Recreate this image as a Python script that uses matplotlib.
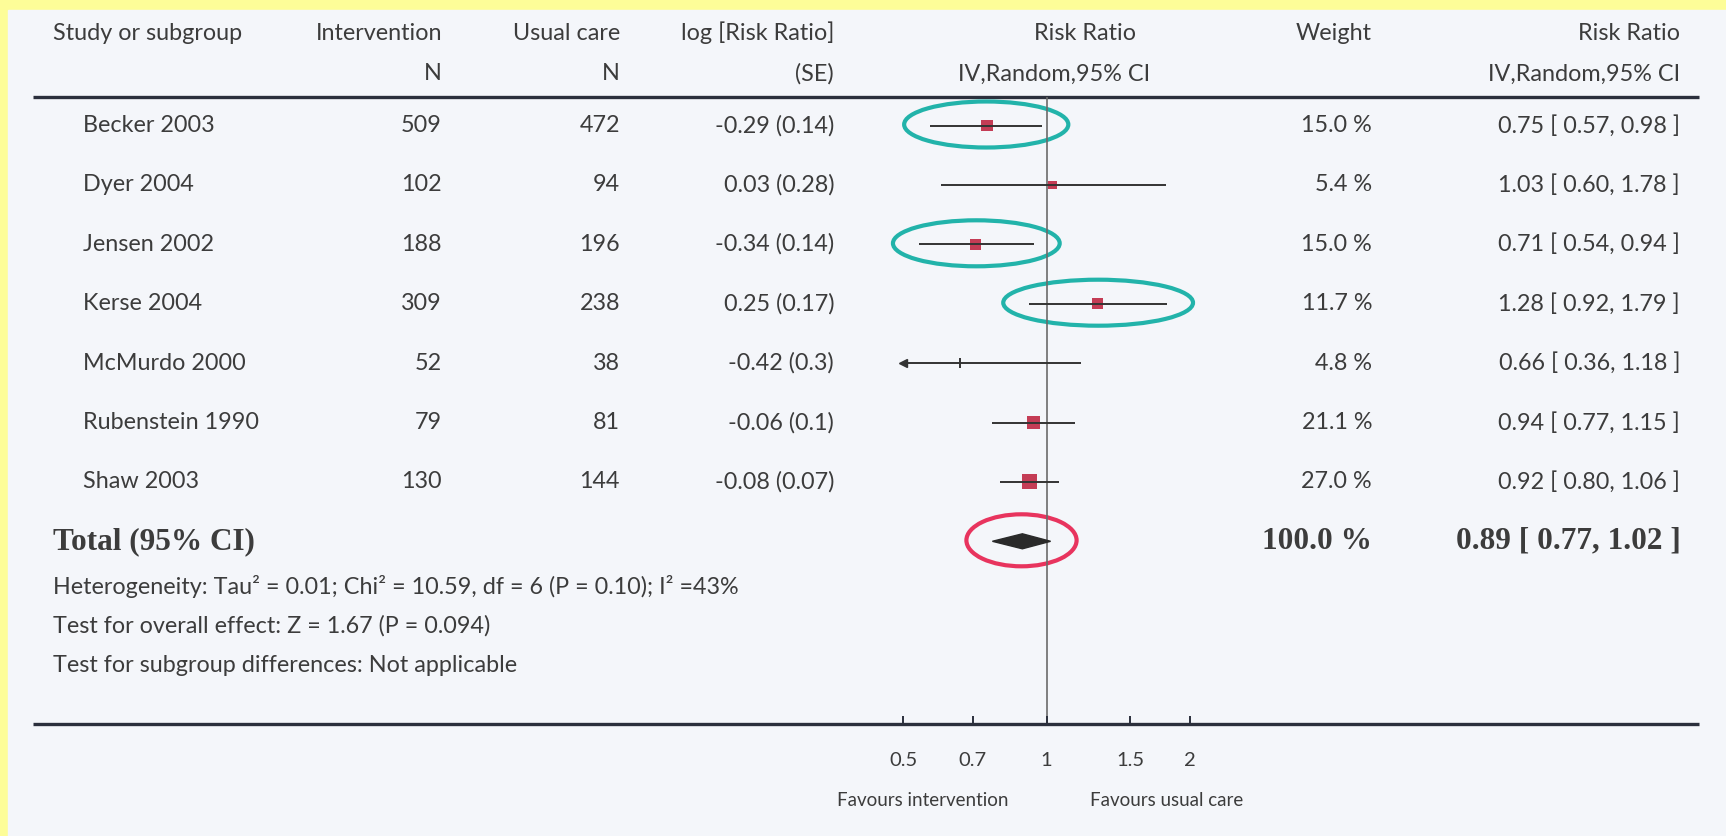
import numpy as np
import matplotlib
matplotlib.use("Agg")
import matplotlib.pyplot as plt
from matplotlib.patches import Ellipse, Rectangle
from matplotlib.ticker import FixedLocator, NullLocator

# data
studies = ["Becker 2003", "Dyer 2004", "Jensen 2002", "Kerse 2004",
           "McMurdo 2000", "Rubenstein 1990", "Shaw 2003"]
n_intervention = [509, 102, 188, 309, 52, 79, 130]
n_usual = [472, 94, 196, 238, 38, 81, 144]
log_rr = [-0.29, 0.03, -0.34, 0.25, -0.42, -0.06, -0.08]
log_se = [0.14, 0.28, 0.14, 0.17, 0.3, 0.1, 0.07]
weights = [15.0, 5.4, 15.0, 11.7, 4.8, 21.1, 27.0]
rr = [0.75, 1.03, 0.71, 1.28, 0.66, 0.94, 0.92]
rr_lo = [0.57, 0.60, 0.54, 0.92, 0.36, 0.77, 0.80]
rr_hi = [0.98, 1.78, 0.94, 1.79, 1.18, 1.15, 1.06]
total_rr, total_lo, total_hi = 0.89, 0.77, 1.02
total_weight = 100.0
highlighted = ["Becker 2003", "Jensen 2002", "Kerse 2004"]
x_ticks = [0.5, 0.7, 1, 1.5, 2]
footer_lines = [
    "Heterogeneity: Tau² = 0.01; Chi² = 10.59, df = 6 (P = 0.10); I² =43%",
    "Test for overall effect: Z = 1.67 (P = 0.094)",
    "Test for subgroup differences: Not applicable",
]

# look
W, H = 1726, 836
SANS = ["Lato", "DejaVu Sans"]
SERIF = ["Liberation Serif", "DejaVu Serif"]
INK = "#3c3c3c"
RULE = "#2b2f3c"
PAPER = "#f4f6fa"
YELLOW = "#fdfd98"
TEAL = "#22b3aa"
PINK = "#e8345e"
SQUARE = "#c43c55"
FS = 16.8
FS_BOLD = 22.5

ROW0, PITCH = 125.5, 59.4
TOP_RULE, BOTTOM_RULE = 97, 724
X1_PX, PX_PER_LN = 1046.5, 207
XLIM = (0.4, 2.5)
CLIP = min(x_ticks)

fig = plt.figure(figsize=(W / 100, H / 100), dpi=100)
fig.patch.set_facecolor(YELLOW)
page = fig.add_axes([0, 0, 1, 1])
page.set_xlim(0, W)
page.set_ylim(H, 0)
page.axis("off")
page.add_patch(Rectangle((8, 10), W - 8, H - 10, color=PAPER, zorder=0))

def row_y(i):
    return ROW0 + PITCH * i

def txt(x, y, s, ha="left", bold=False, size=FS, **kw):
    fam = SERIF if bold else SANS
    page.text(x, y, s, ha=ha, va="center", fontsize=size, color=INK,
              family=fam, fontweight="bold" if bold else "normal", **kw)

# headers
txt(53, 33, "Study or subgroup")
txt(442, 33, "Intervention", ha="right")
txt(442, 74, "N", ha="right")
txt(620, 33, "Usual care", ha="right")
txt(620, 74, "N", ha="right")
txt(834, 33, "log [Risk Ratio]", ha="right")
txt(834, 74, "(SE)", ha="right")
txt(1085, 33, "Risk Ratio", ha="center")
txt(1054, 74, "IV,Random,95% CI", ha="center")
txt(1372, 33, "Weight", ha="right")
txt(1680, 33, "Risk Ratio", ha="right")
txt(1680, 74, "IV,Random,95% CI", ha="right")

page.plot([33, 1699], [TOP_RULE, TOP_RULE], color=RULE, lw=2.4, solid_capstyle="butt")
page.plot([33, 1699], [BOTTOM_RULE, BOTTOM_RULE], color=RULE, lw=2.4, solid_capstyle="butt")

for i, name in enumerate(studies):
    y = row_y(i)
    txt(83, y, name)
    txt(442, y, f"{n_intervention[i]}", ha="right")
    txt(620, y, f"{n_usual[i]}", ha="right")
    txt(834, y, f"{log_rr[i]:g} ({log_se[i]:g})", ha="right")
    txt(1372, y, f"{weights[i]:.1f} %", ha="right")
    txt(1680, y, f"{rr[i]:.2f} [ {rr_lo[i]:.2f}, {rr_hi[i]:.2f} ]", ha="right")

ty = row_y(len(studies))
txt(53, ty, "Total (95% CI)", bold=True, size=FS_BOLD)
txt(1372, ty, f"{total_weight:.1f} %", ha="right", bold=True, size=FS_BOLD)
txt(1681, ty, f"{total_rr:.2f} [ {total_lo:.2f}, {total_hi:.2f} ]", ha="right",
    bold=True, size=FS_BOLD)
for k, line in enumerate(footer_lines):
    txt(53, 586 + 40 * k, line)

# forest axes
left_px = X1_PX + np.log(XLIM[0]) * PX_PER_LN
right_px = X1_PX + np.log(XLIM[1]) * PX_PER_LN
ax = fig.add_axes([left_px / W, 1 - BOTTOM_RULE / H,
                   (right_px - left_px) / W, (BOTTOM_RULE - TOP_RULE) / H])
ax.set_xscale("log")
ax.set_xlim(*XLIM)
ax.set_ylim((BOTTOM_RULE - ROW0) / PITCH, (TOP_RULE - ROW0) / PITCH)
ax.patch.set_alpha(0)
for s in ax.spines.values():
    s.set_visible(False)
ax.xaxis.set_major_locator(FixedLocator(x_ticks))
ax.xaxis.set_minor_locator(NullLocator())
ax.set_xticklabels([f"{t:g}" for t in x_ticks], fontsize=14.5, color=INK, family=SANS)
ax.tick_params(axis="x", direction="in", length=6, width=1.4, color=RULE, pad=20)
ax.set_yticks([])

ax.axvline(1, color="#6a6a6a", lw=1.2, zorder=1)

for i in range(len(studies)):
    lo = max(rr_lo[i], CLIP)
    ax.hlines(i, lo, rr_hi[i], color="#333333", lw=1.4, zorder=3)
    if rr_lo[i] < CLIP:
        ax.plot(CLIP, i, marker="<", ms=6, color="#333333", zorder=3)
        ax.plot(rr[i], i, marker="|", ms=7, mew=1.4, color="#333333", zorder=3)
    else:
        side = 7 + 0.3 * weights[i]
        ax.scatter(rr[i], i, marker="s", s=(side * 0.72) ** 2, color=SQUARE,
                   edgecolor="none", zorder=2)

dh = 7.5 / PITCH
ti = len(studies)
ax.fill([total_lo, total_rr, total_hi, total_rr], [ti, ti - dh, ti, ti + dh],
        color="#2a2a2a", zorder=3)

# annotations drawn around marks (positions via the forest axes transform)
fig.canvas.draw()
def to_page(x, i):
    dx, dy = ax.transData.transform((x, i))
    return dx, H - dy

for i, name in enumerate(studies):
    if name in highlighted:
        xl, y = to_page(rr_lo[i], i)
        xr, _ = to_page(rr_hi[i], i)
        page.add_patch(Ellipse(((xl + xr) / 2, y - 1), xr - xl + 52, 46,
                               fill=False, ec=TEAL, lw=3, zorder=5))
xl, y = to_page(total_lo, ti)
xr, _ = to_page(total_hi, ti)
page.add_patch(Ellipse(((xl + xr) / 2, y - 1), xr - xl + 52, 52,
                       fill=False, ec=PINK, lw=3, zorder=5))

page.text(1008, 801, "Favours intervention", ha="right", va="center",
          fontsize=13.5, color=INK, family=SANS)
page.text(1090, 801, "Favours usual care", ha="left", va="center",
          fontsize=13.5, color=INK, family=SANS)

fig.savefig("out.png", dpi=100, facecolor=fig.get_facecolor())
